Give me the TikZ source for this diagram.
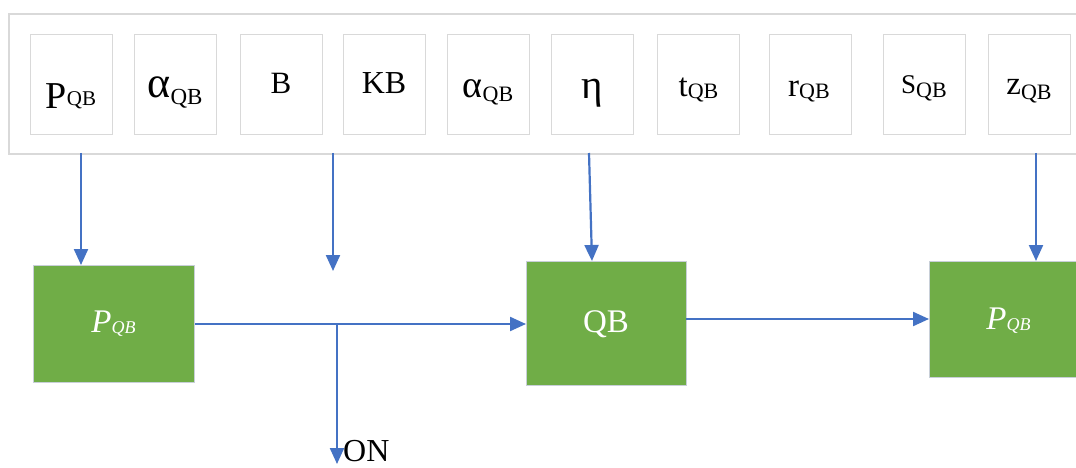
\documentclass[tikz,border=0pt]{standalone}
\usepackage{fontspec}
\setmainfont{Liberation Serif}
\usetikzlibrary{arrows.meta}
\definecolor{grn}{HTML}{70AD47}
\definecolor{blu}{HTML}{4472C4}
\definecolor{framec}{HTML}{D9D9D9}
\definecolor{gborder}{HTML}{C8CFD8}
\newcommand\fs[1]{\fontsize{#1}{#1}\selectfont}
\begin{document}
\begin{tikzpicture}[x=1pt,y=-1pt,
  outerbox/.style={draw=framec, line width=1.6pt, inner sep=0pt, anchor=north west},
  pbox/.style={draw=framec, line width=1.3pt, minimum width=82pt, minimum height=100pt, inner sep=0pt, anchor=north west},
  gbox/.style={draw=gborder, line width=1pt, fill=grn, inner sep=0pt, anchor=north west},
  lab/.style={inner sep=0pt, anchor=base, text=black},
  wlab/.style={inner sep=0pt, anchor=base, text=white},
  arr/.style={draw=blu, line width=2.2pt, -{Triangle[length=16pt,width=14pt]}}]
\useasboundingbox (0,0) rectangle (1076,468);
\fill[white] (0,0) rectangle (1076,468);
% parameter panel
\node[outerbox, minimum width=1100pt, minimum height=140pt] (outer) at (8,13) {};
\node[pbox] (b1) at (30,34) {};
\node[pbox] (b2) at (134,34) {};
\node[pbox] (b3) at (240,34) {};
\node[pbox] (b4) at (343,34) {};
\node[pbox] (b5) at (447,34) {};
\node[pbox] (b6) at (551,34) {};
\node[pbox] (b7) at (657,34) {};
\node[pbox] (b8) at (769,34) {};
\node[pbox] (b9) at (883,34) {};
\node[pbox] (b10) at (988,34) {};
\node[lab] (t1) at (71,109) {\fs{38}P\fs{21}\raisebox{3pt}{QB}};
\node[lab] (t2) at (175,98) {\fs{44}α\fs{23}\raisebox{-7pt}{QB}};
\node[lab] (t3) at (281,94) {\fs{31}B};
\node[lab] (t4) at (384,94) {\fs{32}KB};
\node[lab] (t5) at (488,98) {\fs{38}α\fs{22}\raisebox{-4pt}{QB}};
\node[lab] (t6) at (592,99) {\fs{41}η};
\node[lab] (t7) at (698.5,97) {\fs{33}t\fs{22}\raisebox{-2pt}{QB}};
\node[lab] (t8) at (809,97) {\fs{33}r\fs{22}\raisebox{-2pt}{QB}};
\node[lab] (t9) at (924,94) {\fs{27}S\fs{22}\raisebox{-4pt}{QB}};
\node[lab] (t10) at (1029,95) {\fs{33}z\fs{22}\raisebox{-5pt}{QB}};
% process boxes
\node[gbox, minimum width=161pt, minimum height=117pt] (g1) at (33,265) {};
\node[gbox, minimum width=160pt, minimum height=124pt] (qb) at (526,261) {};
\node[gbox, minimum width=158pt, minimum height=116pt] (g3) at (929,261) {};
\node[wlab] (g1t) at (113.5,332) {\itshape\fs{33}P\fs{18}\raisebox{-1pt}{QB}};
\node[wlab] (qbt) at (606,332) {\fs{33}QB};
\node[wlab] (g3t) at (1008.5,329) {\itshape\fs{33}P\fs{18}\raisebox{-1pt}{QB}};
% arrows from the panel
\coordinate (s1) at (81,153);
\coordinate (s2) at (333,153);
\coordinate (e2) at (333,271);
\coordinate (s3) at (589,153);
\coordinate (e3) at (592,261);
\coordinate (s4) at (1036,153);
\draw[arr] (s1) -- (s1 |- g1.north);
\draw[arr] (s2) -- (e2);
\draw[arr] (s3) -- (e3);
\draw[arr] (s4) -- (s4 |- g3.north);
% flow
\draw[arr] (g1.east) -- (g1.east -| qb.west);
\coordinate (j) at (337,323);
\coordinate (onend) at (337,464);
\draw[arr] (j) -- (onend);
\node[inner sep=0pt, anchor=base west] (on) at (343,461) {\fs{32}ON};
\coordinate (o1) at (686,319);
\draw[arr] (o1) -- (o1 -| g3.west);
\end{tikzpicture}
\end{document}
